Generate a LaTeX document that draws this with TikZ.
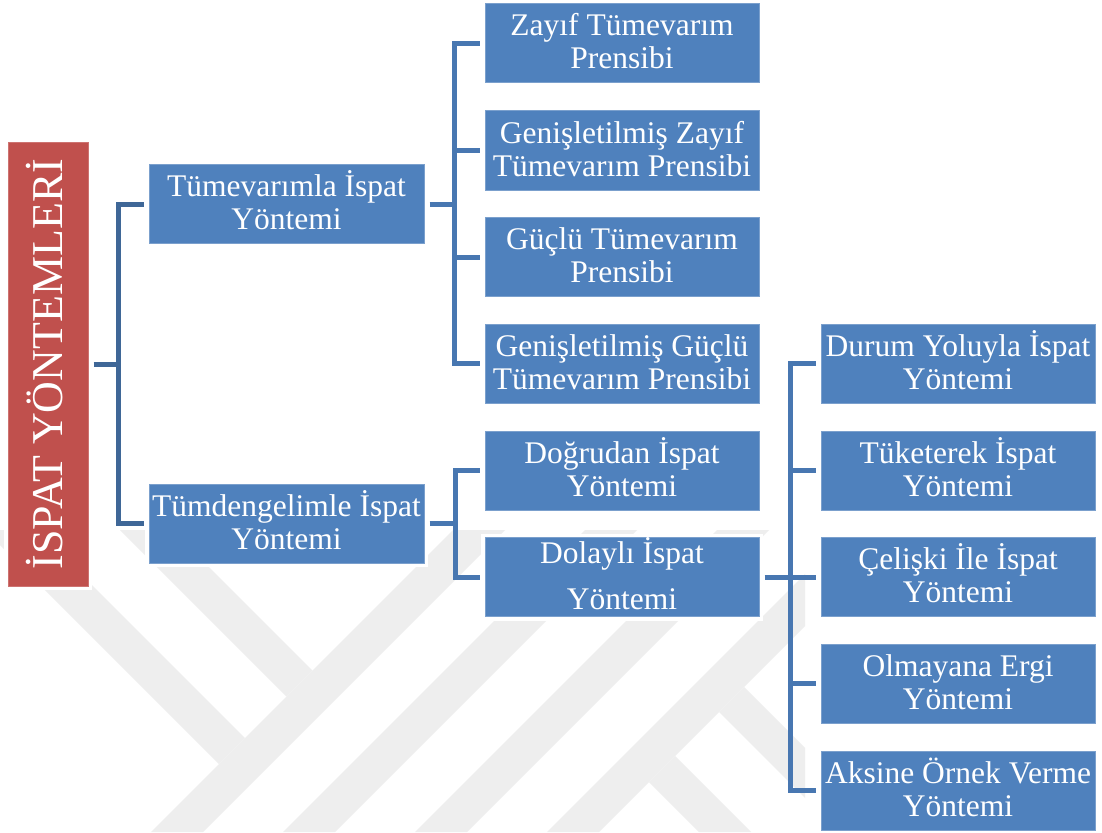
\documentclass[tikz,border=0pt]{standalone}
\usepackage{fontspec}
\setmainfont{Liberation Serif}
\definecolor{boxblue}{HTML}{4F81BD}
\definecolor{rootred}{HTML}{C0504D}
\definecolor{linkdark}{HTML}{3F6797}
\definecolor{linkblue}{HTML}{4877B1}
\definecolor{markgray}{HTML}{EEEEEE}
\tikzset{
  halo/.style={preaction={draw=white, line width=8pt}},
  methodbox/.style={rectangle, halo, fill=boxblue, draw=boxblue!75!white,
    line width=1pt, minimum width=274pt, minimum height=79pt, inner sep=0pt,
    text=white, align=center, font=\fontsize{31.5}{33}\selectfont,
    text height=65pt, text depth=14pt},
  rootbox/.style={rectangle, halo, fill=rootred, draw=rootred!80!white,
    line width=1pt, inner sep=0pt, text=white,
    font=\fontsize{44}{48}\selectfont},
  rootlink/.style={draw=linkdark, line width=5pt},
  link/.style={draw=linkblue, line width=5pt},
  mark/.style={fill=markgray}
}
\begin{document}
\begin{tikzpicture}[x=1pt, y=-1pt]
\useasboundingbox[fill=white] (0,0) rectangle (1102,832);

% faint background emblem made of diagonal bands
\begin{scope}
  \clip (0,530) rectangle (805,832);
  \fill[markgray] (-15,530) -- (37,530) -- (245,738) -- (219,764) -- cycle;
  \fill[markgray] (120,530) -- (172,530) -- (312.5,670.5) -- (286.5,696.5) -- cycle;
  \fill[markgray] (151,832) -- (453,530) -- (505,530) -- (203,832) -- cycle;
  \fill[markgray] (283,832) -- (585,530) -- (637,530) -- (335,832) -- cycle;
  \fill[markgray] (415,832) -- (717,530) -- (769,530) -- (467,832) -- cycle;
  \fill[markgray] (547,832) -- (849,530) -- (901,530) -- (599,832) -- cycle;
  \fill[markgray] (719,712) -- (744,687) -- (889,832) -- (839,832) -- cycle;
  \fill[markgray] (649,782) -- (675,756) -- (751,832) -- (699,832) -- cycle;
\end{scope}

% root
\node[rootbox, rotate=90, minimum width=444pt, minimum height=80pt,
      text height=54pt, text depth=26pt] (root) at (48,364) {İSPAT YÖNTEMLERİ};

% first level
\node[methodbox, minimum width=275pt] (t1) at (286.5,204) {Tümevarımla İspat\\Yöntemi};
\node[methodbox, minimum width=275pt] (t2) at (286.5,523.5) {Tümdengelimle İspat\\Yöntemi};

% second level
\node[methodbox] (z1) at (622,43.5)  {Zayıf Tümevarım\\Prensibi};
\node[methodbox] (z2) at (622,150.5) {Genişletilmiş Zayıf\\Tümevarım Prensibi};
\node[methodbox] (z3) at (622,257)   {Güçlü Tümevarım\\Prensibi};
\node[methodbox] (z4) at (622,363.5) {Genişletilmiş Güçlü\\Tümevarım Prensibi};
\node[methodbox] (d1) at (622,470.5) {Doğrudan İspat\\Yöntemi};
\node[methodbox, text height=72pt, text depth=7pt] (d2) at (622,577) {Dolaylı İspat\\[13pt]Yöntemi};

% third level
\node[methodbox] (k1) at (958,363.5) {Durum Yoluyla İspat\\Yöntemi};
\node[methodbox] (k2) at (958,470.5) {Tüketerek İspat\\Yöntemi};
\node[methodbox] (k3) at (958,577)   {Çelişki İle İspat\\Yöntemi};
\node[methodbox] (k4) at (958,683.5) {Olmayana Ergi\\Yöntemi};
\node[methodbox] (k5) at (958,790.5) {Aksine Örnek Verme\\Yöntemi};

% junction points of the brackets
\coordinate (j0) at (118,364);
\coordinate (j1) at (454,204);
\coordinate (j2) at (455,523.5);
\coordinate (j3) at (790,577);

% root bracket
\draw[rootlink] ([xshift=5pt]root.south) -- (j0);
\draw[rootlink] ([xshift=-5pt]t1.west) -| (j0) |- ([xshift=-5pt]t2.west);

% induction bracket
\draw[link] ([xshift=5pt]t1.east) -- (j1);
\draw[link] ([xshift=-5pt]z1.west) -| (j1) |- ([xshift=-5pt]z4.west);
\draw[link] (z2.west -| j1) -- ([xshift=-5pt]z2.west);
\draw[link] (z3.west -| j1) -- ([xshift=-5pt]z3.west);

% deduction bracket
\draw[link] ([xshift=5pt]t2.east) -- (j2);
\draw[link] ([xshift=-5pt]d1.west) -| (j2) |- ([xshift=-5pt]d2.west);

% indirect proof bracket
\draw[link] ([xshift=5pt]d2.east) -- (j3);
\draw[link] ([xshift=-5pt]k1.west) -| (j3) |- ([xshift=-5pt]k5.west);
\draw[link] (k2.west -| j3) -- ([xshift=-5pt]k2.west);
\draw[link] (k3.west -| j3) -- ([xshift=-5pt]k3.west);
\draw[link] (k4.west -| j3) -- ([xshift=-5pt]k4.west);
\end{tikzpicture}
\end{document}
